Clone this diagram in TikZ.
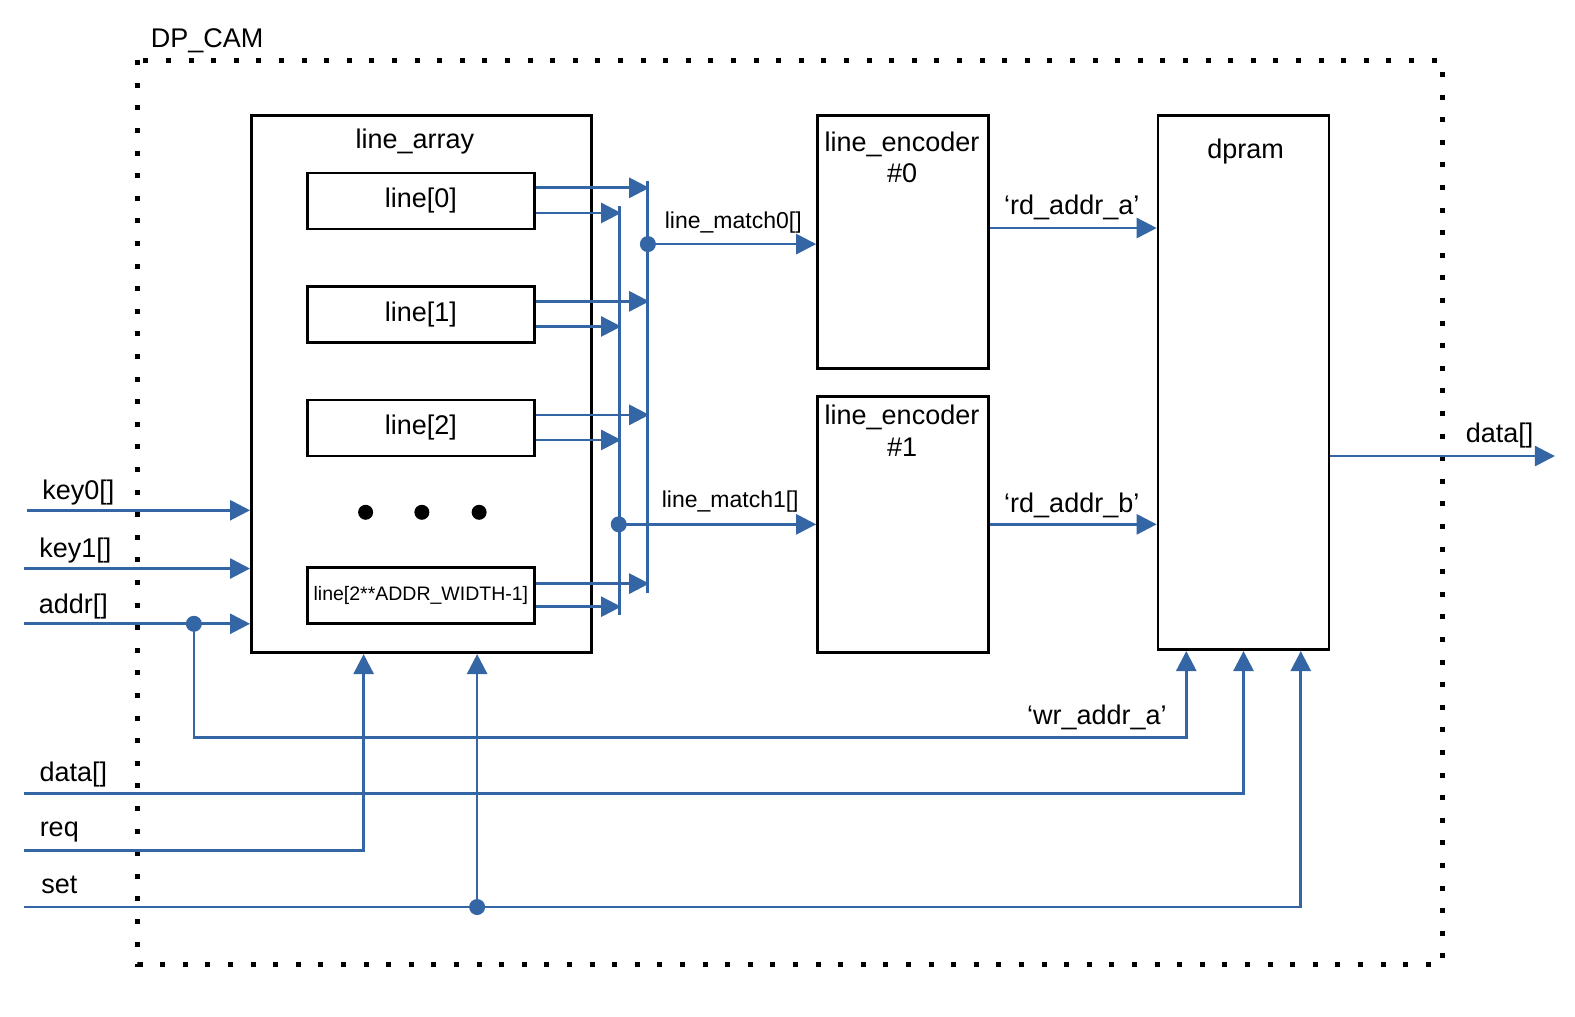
\documentclass[tikz,border=0pt]{standalone}
\usepackage{fontspec}
\setmainfont{Liberation Sans}
\usetikzlibrary{arrows.meta,calc}
\definecolor{sigblue}{RGB}{52,101,164}
\begin{document}
\begin{tikzpicture}[x=1.0045pt,y=-1.0045pt,
 box/.style={draw=black,line width=2.7pt,fill=white,inner sep=0pt},
 sig/.style={draw=sigblue,line width=2.7pt},
 arr/.style={sig,-{Triangle[length=20pt,width=20pt]}},
 bus/.style={draw=sigblue,line width=3.2pt},
 lbl/.style={font=\fontsize{27}{30}\selectfont,inner sep=0pt,anchor=base},
 slbl/.style={font=\fontsize{23}{26}\selectfont,inner sep=0pt,anchor=base},
 jdot/.style={circle,fill=sigblue,minimum size=16pt,inner sep=0pt},
 edot/.style={circle,fill=black,minimum size=15pt,inner sep=0pt},
 linebox/.style={box,minimum width=227pt,minimum height=56pt,font=\fontsize{27}{30}\selectfont},
]
\useasboundingbox (0,0) rectangle (1568,1011.5);
% outer dotted border
\draw[line width=5pt,dash pattern=on 5pt off 17.6pt] (137,60) rectangle (1436,960);
\node[lbl,anchor=base west] (dpcam) at (150,47) {DP\_CAM};

% line array
\node[box,minimum width=340pt,minimum height=537pt] (la) at (419.5,382.5) {};
\node[lbl] (latxt) at (413,148) {line\_array};
\node[linebox] (l0) at (419,200) {line[0]};
\node[linebox] (l1) at (419,313) {line[1]};
\node[linebox] (l2) at (419,426) {line[2]};
\node[linebox,font=\fontsize{19.5}{22}\selectfont] (ln) at (419,593) {line[2**ADDR\_WIDTH-1]};
\node[edot] (e1) at (364,510) {};
\node[edot] (e2) at (420,510) {};
\node[edot] (e3) at (477,510) {};

% buses
\coordinate (bAt) at (645,180);
\coordinate (bAb) at (645,590);
\coordinate (bBt) at (617,205);
\coordinate (bBb) at (617,612);
\draw[bus] (bAt) -- (bAb);
\draw[bus] (bBt) -- (bBb);

% line outputs
\foreach \n in {l0,l1,l2}{
  \draw[arr] ($(\n.east)+(0,-13)$) -- ($(\n.east)+(113,-13)$);
  \draw[arr] ($(\n.east)+(0,12)$) -- ($(\n.east)+(85,12)$);
}
\draw[arr] ($(ln.east)+(0,-12)$) -- ($(ln.east)+(113,-12)$);
\draw[arr] ($(ln.east)+(0,11)$) -- ($(ln.east)+(85,11)$);

% encoders
\node[box,minimum width=171pt,minimum height=253pt] (enc0) at (899,241) {};
\node[lbl] (enc0a) at (898,151) {line\_encoder};
\node[lbl] (enc0b) at (898,182) {\#0};
\node[box,minimum width=171pt,minimum height=256pt] (enc1) at (899,522.5) {};
\node[lbl] (enc1a) at (898,423) {line\_encoder};
\node[lbl] (enc1b) at (898,454) {\#1};

% dpram
\node[box,minimum width=171pt,minimum height=534pt] (dp) at (1238,381) {};
\node[lbl] (dptxt) at (1240,158) {dpram};

% match lines
\node[jdot] (j0) at (645,243) {};
\draw[arr] (j0.center) -- (j0.center -| enc0.west);
\node[slbl] (m0) at (730,227) {line\_match0[]};
\node[jdot] (j1) at (616,522) {};
\draw[arr] (j1.center) -- (j1.center -| enc1.west);
\node[slbl] (m1) at (727,505) {line\_match1[]};

% rd addr
\coordinate (ra) at (986,227);
\draw[arr] (ra) -- (ra -| dp.west);
\node[lbl] (ratxt) at (1067,214) {‘rd\_addr\_a’};
\coordinate (rb) at (986,522);
\draw[arr] (rb) -- (rb -| dp.west);
\node[lbl] (rbtxt) at (1067,510) {‘rd\_addr\_b’};

% data out
\coordinate (dout) at (1548,454);
\draw[arr] (dp.east |- dout) -- (dout);
\node[lbl] (douttxt) at (1493,441) {data[]};

% inputs
\coordinate (k0) at (27,508);
\draw[arr] (k0) -- (k0 -| la.west);
\node[lbl] (k0txt) at (78,497) {key0[]};
\coordinate (k1) at (24,566);
\draw[arr] (k1) -- (k1 -| la.west);
\node[lbl] (k1txt) at (75,555) {key1[]};
\coordinate (ad) at (24,621);
\draw[arr] (ad) -- (ad -| la.west);
\node[lbl] (adtxt) at (73,611) {addr[]};
\node[jdot] (ja) at (193,621) {};
\coordinate (wa) at (1181,734);
\draw[arr] (ja.center) |- (wa) -- (wa |- dp.south);
\node[lbl] (watxt) at (1092,721) {‘wr\_addr\_a’};

\coordinate (din) at (24,790);
\draw[arr] (din) -| (dp.south);
\node[lbl] (dintxt) at (73,778) {data[]};

\coordinate (rq) at (24,847);
\coordinate (rqx) at (362,847);
\draw[arr] (rq) -- (rqx) -- (rqx |- la.south);
\node[lbl] (rqtxt) at (59,833) {req};

\coordinate (st) at (24,903);
\coordinate (stx) at (1295,903);
\draw[arr] (st) -- (stx) -- (stx |- dp.south);
\node[lbl] (sttxt) at (59,890) {set};
\node[jdot] (js) at (475,903) {};
\draw[arr] (js.center) -- (js.center |- la.south);
\end{tikzpicture}
\end{document}
